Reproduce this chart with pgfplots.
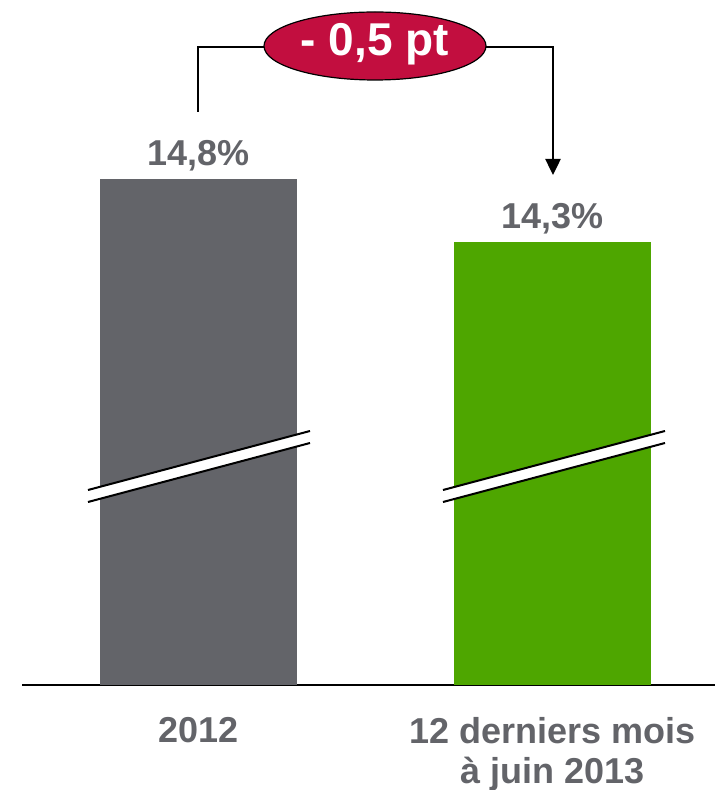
\documentclass[border=0pt]{standalone}
\usepackage{pgfplots}
\pgfplotsset{compat=1.18}
\usepackage{fontspec}
\setmainfont{Liberation Sans}
\usetikzlibrary{arrows.meta}
\definecolor{bargray}{HTML}{636469}
\definecolor{bargreen}{HTML}{4EA600}
\definecolor{crimson}{HTML}{C20E3F}
\begin{document}
\begin{tikzpicture}
\path[use as bounding box] (0pt,0pt) rectangle (715pt,790pt);
\begin{axis}[
  at={(22pt,105pt)}, anchor=south west,
  scale only axis, width=693pt, height=675pt,
  xmin=-0.5, xmax=1.458,
  ymin=10.784, ymax=16.141,
  hide y axis,
  axis x line=bottom,
  axis line style={-, line width=1.6pt, black},
  xtick={0,1},
  xticklabels={2012, {12 derniers mois\\à juin 2013}},
  major tick length=0pt,
  xticklabel style={align=center, text=bargray, font=\bfseries\fontsize{36}{40}\selectfont, yshift=-29pt},
  ybar, bar width=197pt,
  point meta=explicit symbolic,
  nodes near coords,
  nodes near coords style={text=bargray, font=\bfseries\fontsize{36}{44}\selectfont, anchor=south, yshift=4pt},
]
\addplot[fill=bargray, draw=none, bar shift=0pt] coordinates {(0,14.8) [14,8\%]};
\addplot[fill=bargreen, draw=none, bar shift=0pt] coordinates {(1,14.3) [14,3\%]};
\end{axis}
% axis break marks
\foreach \dx in {0,355}{
  \fill[white] (88pt+\dx pt,300pt) -- (310pt+\dx pt,359pt) -- (310pt+\dx pt,347pt) -- (88pt+\dx pt,288pt) -- cycle;
  \draw[line width=2pt] (88pt+\dx pt,300pt) -- (310pt+\dx pt,359pt);
  \draw[line width=2pt] (88pt+\dx pt,288pt) -- (310pt+\dx pt,347pt);
}
% connector
\draw[line width=2.5pt] (198pt,678pt) -- (198pt,743pt) -- (300pt,743pt);
\draw[line width=2.5pt, -{Triangle[width=15pt,length=16pt]}] (450pt,743pt) -- (553pt,743pt) -- (553pt,615pt);
\draw[fill=crimson, line width=1.2pt] (375pt,744pt) ellipse [x radius=111pt, y radius=34pt];
\node[text=white, font=\bfseries\fontsize{46}{50}\selectfont] at (375pt,746pt) {- 0,5 pt};
\end{tikzpicture}
\end{document}
